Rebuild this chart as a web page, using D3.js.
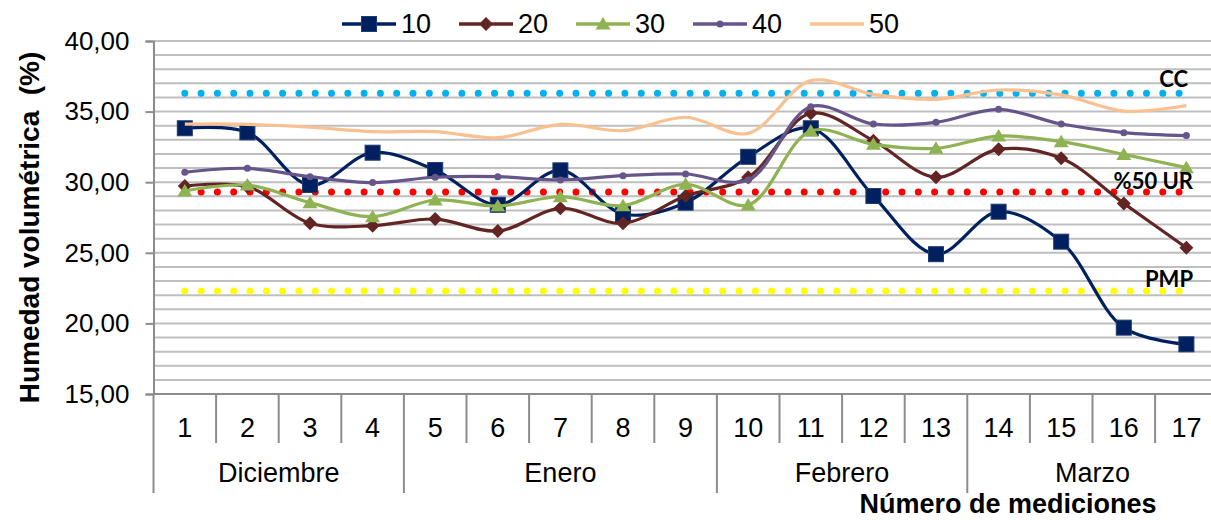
<!DOCTYPE html>
<html>
<head>
<meta charset="utf-8">
<script src="https://cdn.jsdelivr.net/npm/d3@7"></script>
<style>
  body { margin: 0; background: #fff; }
  svg { display: block; font-family: "Liberation Sans", Arial, sans-serif; }
</style>
</head>
<body>
<svg id="chart" width="1211" height="520"></svg>
<script>
// Número de medición y mes correspondiente
const mediciones = ["1","2","3","4","5","6","7","8","9","10","11","12","13","14","15","16","17"];
const meses = [
  { nombre: "Diciembre", desde: "1",  hasta: "4"  },
  { nombre: "Enero",     desde: "5",  hasta: "9"  },
  { nombre: "Febrero",   desde: "10", hasta: "13" },
  { nombre: "Marzo",     desde: "14", hasta: "17" }
];

// Humedad volumétrica (%) por profundidad (cm)
const prof10 = [33.82, 33.53, 29.80, 32.09, 30.86, 28.40, 30.84, 27.75, 28.55, 31.80, 33.82, 29.02, 24.90, 27.91, 25.79, 19.70, 18.52];
const prof20 = [29.73, 29.68, 27.09, 26.92, 27.39, 26.54, 28.15, 27.09, 29.02, 30.35, 34.88, 32.94, 30.35, 32.33, 31.69, 28.50, 25.36];
const prof30 = [29.38, 29.80, 28.55, 27.56, 28.74, 28.31, 28.97, 28.34, 29.85, 28.39, 33.63, 32.68, 32.40, 33.27, 32.87, 31.97, 31.03];
const prof40 = [30.70, 30.98, 30.39, 29.97, 30.35, 30.39, 30.16, 30.46, 30.58, 30.16, 35.35, 34.12, 34.24, 35.16, 34.12, 33.51, 33.30];
const prof50 = [34.12, 34.10, 33.89, 33.58, 33.58, 33.15, 34.10, 33.65, 34.60, 33.46, 37.19, 36.22, 35.87, 36.53, 36.18, 35.04, 35.42];

// Umbrales de humedad
const umbrales = [
  { nombre: "CC",     valor: 36.3, color: "#00b0f0" },
  { nombre: "%50 UR", valor: 29.3, color: "#ff0000" },
  { nombre: "PMP",    valor: 22.3, color: "#ffff00" }
];

const yTicks = [15, 20, 25, 30, 35, 40];
const yTitulo = "Humedad volumétrica  (%)";
const xTitulo = "Número de mediciones";

const series = [
  { nombre: "10", valores: prof10, color: "#002060", marca: "square" },
  { nombre: "20", valores: prof20, color: "#632523", marca: "diamond" },
  { nombre: "30", valores: prof30, color: "#8fb252", marca: "triangle" },
  { nombre: "40", valores: prof40, color: "#65558a", marca: "circle" },
  { nombre: "50", valores: prof50, color: "#fac090", marca: null }
];

const svg = d3.select("#chart");
const plotLeft = 153.5, band = 62.6;
const plotTop = 41, plotBottom = 394;

const x = d3.scaleBand().domain(mediciones).range([plotLeft, plotLeft + band * mediciones.length]).padding(0);
const y = d3.scaleLinear().domain([15, 40]).range([plotBottom, plotTop]);
const cx = d => x(d) + x.bandwidth() / 2;

// Líneas de cuadrícula cada 1 %
svg.append("g").selectAll("line")
  .data(d3.range(15, 41))
  .join("line")
  .attr("x1", plotLeft + 1).attr("x2", 1211)
  .attr("y1", d => y(d)).attr("y2", d => y(d))
  .attr("stroke", "#bfbfbf").attr("stroke-width", 2);

// Eje vertical
const fmt = d => d3.format(".2f")(d).replace(".", ",");
const yAxis = svg.append("g")
  .attr("transform", `translate(${plotLeft},0)`)
  .call(d3.axisLeft(y).tickValues(yTicks).tickFormat(fmt).tickSize(8).tickPadding(16));
yAxis.select(".domain").attr("stroke", "#8c8c8c").attr("stroke-width", 2);
yAxis.selectAll(".tick line").attr("stroke", "#8c8c8c").attr("stroke-width", 2);
yAxis.selectAll(".tick text")
  .attr("font-size", 26).attr("fill", "#000")
  .attr("font-family", "'Liberation Sans', Arial, sans-serif");

// Eje de categorías (número y mes)
const cat = svg.append("g");
cat.append("line")
  .attr("x1", plotLeft).attr("x2", 1211).attr("y1", plotBottom).attr("y2", plotBottom)
  .attr("stroke", "#8c8c8c").attr("stroke-width", 2);
const bordesMes = new Set(meses.map(m => m.desde));
cat.selectAll("line.sep")
  .data(mediciones)
  .join("line")
  .attr("class", "sep")
  .attr("x1", d => x(d)).attr("x2", d => x(d))
  .attr("y1", plotBottom)
  .attr("y2", d => bordesMes.has(d) ? 493 : 443)
  .attr("stroke", "#8c8c8c").attr("stroke-width", 2);
cat.selectAll("text.num")
  .data(mediciones)
  .join("text")
  .attr("class", "num")
  .attr("x", cx).attr("y", 428)
  .attr("text-anchor", "middle").attr("dominant-baseline", "central")
  .attr("font-size", 27).attr("fill", "#000")
  .text(d => d);
cat.selectAll("text.mes")
  .data(meses)
  .join("text")
  .attr("class", "mes")
  .attr("x", m => (x(m.desde) + x(m.hasta) + x.bandwidth()) / 2)
  .attr("y", 473)
  .attr("text-anchor", "middle").attr("dominant-baseline", "central")
  .attr("font-size", 27).attr("fill", "#000")
  .text(m => m.nombre);

// Umbrales punteados
svg.append("g").selectAll("line")
  .data(umbrales)
  .join("line")
  .attr("x1", cx(mediciones[0])).attr("x2", cx(mediciones[mediciones.length - 1]))
  .attr("y1", d => y(d.valor)).attr("y2", d => y(d.valor))
  .attr("stroke", d => d.color).attr("stroke-width", 7)
  .attr("stroke-linecap", "round").attr("stroke-dasharray", "0 16.3");

// Series de humedad
const linea = d3.line()
  .x((d, i) => cx(mediciones[i]))
  .y(d => y(d))
  .curve(d3.curveCatmullRom.alpha(0.5));

function marca(g, tipo, color, px, py) {
  if (tipo === "square") {
    g.append("rect").attr("x", px - 7.5).attr("y", py - 7.5).attr("width", 15).attr("height", 15)
      .attr("fill", color).attr("stroke", "#1f3a70").attr("stroke-width", 1);
  } else if (tipo === "diamond") {
    g.append("path").attr("d", `M${px},${py - 7}L${px + 7},${py}L${px},${py + 7}L${px - 7},${py}Z`)
      .attr("fill", color);
  } else if (tipo === "triangle") {
    g.append("path").attr("d", `M${px},${py - 7}L${px + 7.5},${py + 5.5}L${px - 7.5},${py + 5.5}Z`)
      .attr("fill", color);
  } else if (tipo === "circle") {
    g.append("circle").attr("cx", px).attr("cy", py).attr("r", 3.5).attr("fill", color);
  }
}

series.forEach(s => {
  const g = svg.append("g");
  g.append("path")
    .attr("d", linea(s.valores))
    .attr("fill", "none").attr("stroke", s.color).attr("stroke-width", 3.2)
    .attr("stroke-linejoin", "round");
  if (s.marca) {
    s.valores.forEach((v, i) => marca(g, s.marca, s.color, cx(mediciones[i]), y(v)));
  }
});

// Etiquetas de umbrales
const etiquetas = [
  { texto: "CC",     x: 1188, y: 78 },
  { texto: "%50 UR", x: 1193, y: 180 },
  { texto: "PMP",    x: 1193, y: 278 }
];
svg.append("g").selectAll("text")
  .data(etiquetas)
  .join("text")
  .attr("x", d => d.x).attr("y", d => d.y)
  .attr("text-anchor", "end").attr("dominant-baseline", "central")
  .attr("font-family", "Lato, 'Open Sans', sans-serif")
  .attr("font-weight", "bold").attr("font-size", 22).attr("fill", "#000")
  .text(d => d.texto);

// Leyenda
const leyenda = svg.append("g");
series.forEach((s, i) => {
  const lx = 342 + 117 * i, ly = 24;
  const g = leyenda.append("g");
  g.append("line").attr("x1", lx).attr("x2", lx + 54).attr("y1", ly).attr("y2", ly)
    .attr("stroke", s.color).attr("stroke-width", 3.5);
  if (s.marca) marca(g, s.marca, s.color, lx + 27, ly);
  g.append("text").attr("x", lx + 59).attr("y", ly)
    .attr("dominant-baseline", "central")
    .attr("font-size", 27).attr("fill", "#000")
    .text(s.nombre);
});

// Títulos de ejes
svg.append("text")
  .attr("transform", `translate(29,${(45 + 410) / 2}) rotate(-90)`)
  .attr("text-anchor", "middle").attr("dominant-baseline", "central")
  .style("white-space", "pre")
  .attr("font-weight", "bold").attr("font-size", 28).attr("fill", "#000")
  .text(yTitulo);
svg.append("text")
  .attr("x", 1008).attr("y", 513)
  .attr("text-anchor", "middle")
  .attr("font-weight", "bold").attr("font-size", 27).attr("fill", "#000")
  .text(xTitulo);
</script>
</body>
</html>
